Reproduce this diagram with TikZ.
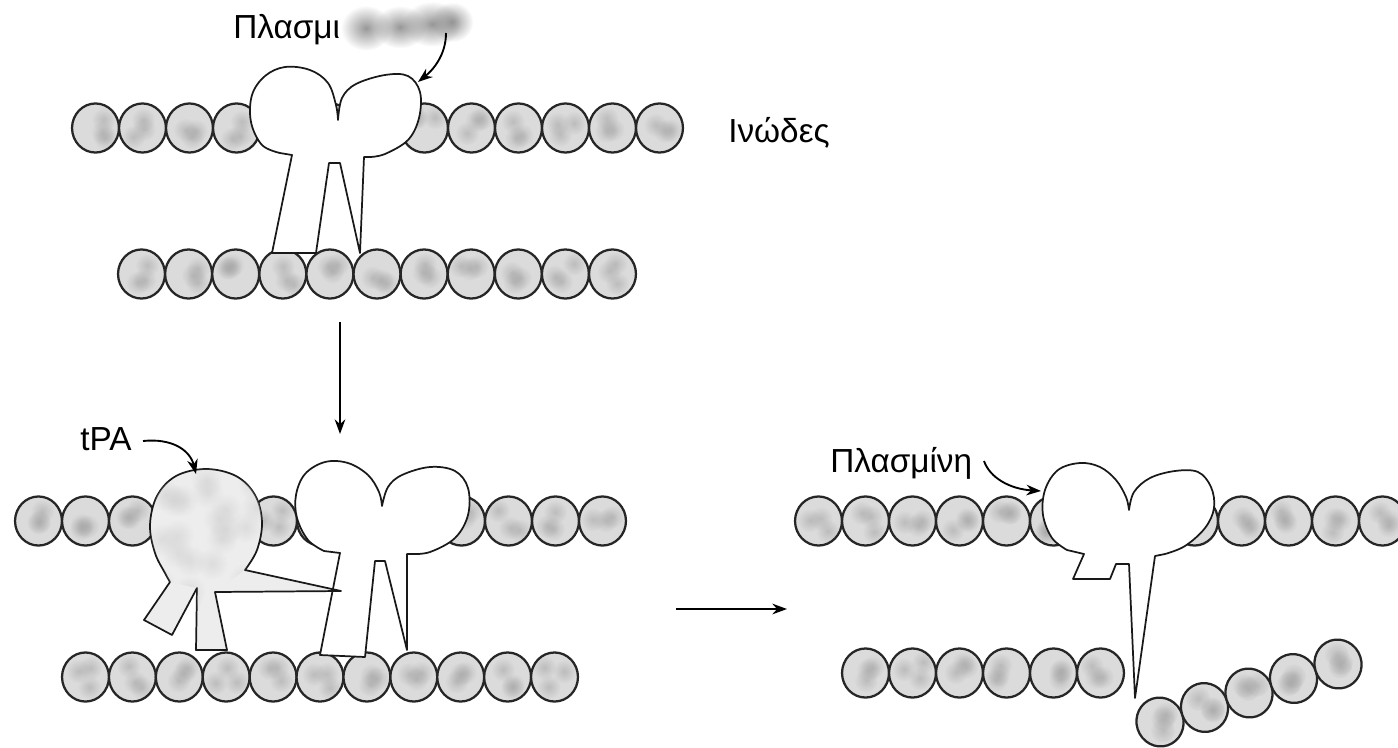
\documentclass[tikz,border=0pt]{standalone}
\usepackage{fontspec}
\setmainfont{Liberation Sans}
\usetikzlibrary{arrows.meta,fadings}
\tikzfading[name=blob, inner color=transparent!50, outer color=transparent!100]
\tikzfading[name=smear, inner color=transparent!10, outer color=transparent!100]

% one fibrin bead: centre x, centre y, tilt
\newcommand\beadat[3]{%
  \begin{scope}[shift={(#1,#2)}, rotate=#3]
    \fill[black!14] (0,0) ellipse[x radius=17.6pt, y radius=18.4pt];
    \begin{scope}
      \clip (0,0) ellipse[x radius=17.6pt, y radius=18.4pt];
      \foreach \k in {1,2,3}{%
        \pgfmathsetmacro\bx{11*rand}%
        \pgfmathsetmacro\by{11*rand}%
        \fill[black!38, path fading=blob] (\bx,\by) circle (9pt);
      }
    \end{scope}
    \draw[beadline] (0,0) ellipse[x radius=17.6pt, y radius=18.4pt];
  \end{scope}}

\begin{document}
\begin{tikzpicture}[x=0.75pt,y=-0.75pt,
  beadline/.style={draw=black!85, line width=1.7pt},
  protein/.style={draw=black!90, line width=1.3pt, fill=white, line join=round},
  tpashape/.style={draw=black!90, line width=1.3pt, fill=black!7, line join=round},
  pointer/.style={draw=black, line width=1.4pt, -{Stealth[length=11pt,width=8pt]}},
  lbl/.style={font=\fontsize{25}{30}\selectfont, inner sep=0pt, anchor=base west},
]
\pgfmathsetseed{4211}
\useasboundingbox (0,0) rectangle (1398,747);

% ---------------- panel 1: plasminogen bound to fibrin ----------------
\foreach \i in {0,...,12} {\beadat{95.5+47*\i}{128}{0}}
\foreach \i in {0,...,10} {\beadat{141.5+47.1*\i}{274}{0}}

\draw[protein] (292,155) -- (280,153)
  -- plot[smooth, tension=0.6] coordinates {(280,153) (262,145) (251,122) (252,95) (265,76) (285,67) (310,70) (328,83) (336,105) (338,120)}
  -- plot[smooth, tension=0.6] coordinates {(338,120) (342,98) (356,84) (385,75) (408,76) (420,92) (419,118) (408,140) (385,154) (370,157)}
  -- (364,157) -- (360,253) -- (340,163) -- (329,163) -- (316,253) -- (272,253) -- cycle;

% label with blurred remainder
\node[lbl] (plgtext) at (233,38) {Πλασμι};
\foreach \cx/\cy/\rx/\ry in {366/28/19/17, 400/27/20/16, 432/24/22/17, 452/22/16/15} {
  \fill[black!45, path fading=smear] (\cx,\cy) ellipse[x radius=\rx pt, y radius=\ry pt];
}
\coordinate (plgtail) at (446,33);
\coordinate (plghead) at (418,82);
\draw[pointer] (plgtail) .. controls (446,55) and (433,70) .. (plghead);

\node[lbl] (fibrin) at (728,142) {Ινώδες};

% step arrow down
\coordinate (downA) at (340,322);
\coordinate (downB) at (340,434);
\draw[pointer] (downA) -- (downB);

% ---------------- panel 2: tPA activates plasminogen ----------------
\foreach \i in {0,...,12} {\beadat{38.5+47*\i}{521}{0}}
\foreach \i in {0,...,10} {\beadat{85.5+46.9*\i}{677}{0}}

\draw[protein] (340,553) -- (324,551)
  -- plot[smooth, tension=0.6] coordinates {(324,551) (308,540) (297,518) (296,495) (305,474) (325,462) (348,463) (368,475) (379,492) (382,506)}
  -- plot[smooth, tension=0.6] coordinates {(382,506) (388,487) (402,475) (430,467) (455,471) (468,488) (468,515) (455,538) (430,552) (411,554)}
  -- (407,554) -- (407,650) -- (385,561) -- (375,561) -- (365,657) -- (320,655) -- cycle;

\draw[tpashape] (170,582) -- (144,620) -- (172,635) -- (197,588) -- (196,650) -- (227,650) -- (215,592) -- (341,591) -- (245,570)
  -- plot[smooth, tension=0.6] coordinates {(245,570) (257,550) (262,522) (255,495) (236,476) (206,469) (176,476) (157,496) (150,525) (155,553) (165,573) (170,582)}
  -- cycle;
% mottling of the tPA body
\begin{scope}
  \clip (245,570) -- plot[smooth, tension=0.6] coordinates {(245,570) (257,550) (262,522) (255,495) (236,476) (206,469) (176,476) (157,496) (150,525) (155,553) (165,573) (170,582)} -- (197,588) -- (196,648) -- (226,648) -- (215,592) -- cycle;
  \foreach \k in {1,...,22}{%
    \pgfmathsetmacro\bx{205+52*rand}%
    \pgfmathsetmacro\by{540+60*rand}%
    \fill[black!20, path fading=blob] (\bx,\by) circle (12pt);
  }
\end{scope}

\node[lbl] (tpatext) at (80,450) {tPA};
\coordinate (tpatail) at (143,441);
\coordinate (tpahead) at (196,474);
\draw[pointer] (tpatail) .. controls (172,438) and (190,450) .. (tpahead);

% step arrow right
\coordinate (rightA) at (676,609);
\coordinate (rightB) at (787,609);
\draw[pointer] (rightA) -- (rightB);

% ---------------- panel 3: plasmin cleaves fibrin ----------------
\foreach \i in {0,...,12} {\beadat{818.5+47*\i}{521}{0}}
\foreach \i in {0,...,5} {\beadat{865.5+47*\i}{673}{0}}
\foreach \i in {0,...,4} {\beadat{1160+44.5*\i}{722-14.5*\i}{18}}

\draw[protein] (1116,564) -- (1110,579) -- (1073,579) -- (1084,554) -- (1067,550)
  -- plot[smooth, tension=0.6] coordinates {(1067,550) (1052,538) (1043,515) (1045,490) (1058,470) (1080,463) (1100,467) (1116,480) (1126,497) (1129,510)}
  -- plot[smooth, tension=0.6] coordinates {(1129,510) (1134,492) (1150,478) (1175,471) (1198,472) (1211,487) (1214,508) (1205,528) (1185,546) (1165,554)}
  -- (1155,556) -- (1135,698) -- (1129,564) -- cycle;

\node[lbl] (plmtext) at (830,472) {Πλασμίνη};
\coordinate (plmtail) at (984,461);
\coordinate (plmhead) at (1041,491);
\draw[pointer] (plmtail) .. controls (990,478) and (1010,489) .. (plmhead);

\end{tikzpicture}
\end{document}
